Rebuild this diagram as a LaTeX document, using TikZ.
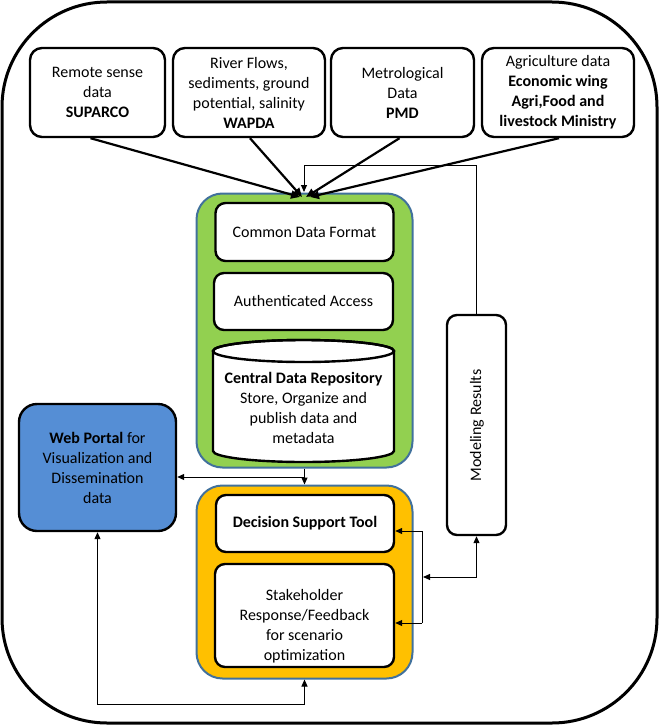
\documentclass[tikz,border=0pt]{standalone}
\usepackage{fontspec}
\setmainfont{Carlito}
\usetikzlibrary{arrows.meta,calc}
\definecolor{grn}{HTML}{92D050}
\definecolor{org}{HTML}{FFC000}
\definecolor{wpblue}{HTML}{558ED5}
\definecolor{frm}{HTML}{41719C}
\begin{document}
\begin{tikzpicture}[x=1pt,y=-1pt,
  every node/.style={font=\fontsize{16}{20}\selectfont},
  srcbox/.style={draw, line width=2.4pt, rounded corners=12pt, fill=white, align=center, inner sep=0pt, minimum height=89pt},
  inbox/.style={draw, line width=2.4pt, rounded corners=10pt, fill=white, align=center, inner sep=0pt},
  cont/.style={draw=frm, line width=2pt, rounded corners=26pt, inner sep=0pt},
  feed/.style={line width=2.2pt, -{Triangle[length=9pt,width=8pt]}},
  link/.style={line width=1pt, -{Triangle[length=7pt,width=6pt]}},
  dlink/.style={line width=1pt, {Triangle[length=7pt,width=6pt]}-{Triangle[length=7pt,width=6pt]}},
  plain/.style={line width=1pt}
]
\useasboundingbox (0,0) rectangle (659,725);
\draw[line width=3pt] (107,2) -- (552,2)
  arc[start angle=90, end angle=0, radius=105pt] -- (657,618)
  arc[start angle=0, end angle=-90, radius=105pt] -- (107,723)
  arc[start angle=270, end angle=180, radius=105pt] -- (2,107)
  arc[start angle=180, end angle=90, radius=105pt] -- cycle;

% source boxes
\node[srcbox, minimum width=135pt] (b1) at (97.5,92.5) {Remote sense\\data\\\textbf{SUPARCO}};
\node[srcbox, minimum width=152pt] (b2) at (249,92.5) {River Flows,\\sediments, ground\\potential, salinity\\\textbf{WAPDA}};
\node[srcbox, minimum width=143pt] (b3) at (402.5,92.5) {Metrological\\Data\\\textbf{PMD}};
\node[srcbox, minimum width=152pt] (b4) at (558,92.5) {Agriculture data\\\textbf{Economic wing}\\\textbf{Agri,Food and}\\\textbf{livestock Ministry}};

% containers
\node[cont, fill=grn, minimum width=216pt, minimum height=274pt] (green) at (304.5,330.5) {};
\node[cont, fill=org, minimum width=216pt, minimum height=193pt] (orange) at (304.5,582) {};

% inner boxes
\node[inbox, minimum width=178pt, minimum height=58pt] (cdf) at (304.5,232) {Common Data Format};
\node[inbox, minimum width=179pt, minimum height=57pt] (aa) at (303.5,301.5) {Authenticated Access};

% cylinder
\filldraw[fill=white, line width=2.4pt] (213,351) -- (213,451)
  arc[start angle=180, end angle=360, x radius=90.5pt, y radius=11pt] -- (394,351)
  arc[start angle=0, end angle=180, x radius=90.5pt, y radius=11pt] -- cycle;
\draw[line width=2.4pt] (303.5,351) ellipse [x radius=90.5pt, y radius=11pt];
\node[align=center, inner sep=0pt] (cdr) at (303.5,408) {\textbf{Central Data Repository}\\Store, Organize and\\publish data and\\metadata};

\node[inbox, minimum width=178pt, minimum height=57pt] (dst) at (305,523.5) {\textbf{Decision Support Tool}};
\node[inbox, minimum width=179pt, minimum height=103pt] (shf) at (304.5,615.5) {};
\node[align=center, inner sep=0pt] (shftext) at (304.5,626) {Stakeholder\\Response/Feedback\\for scenario\\optimization};

% web portal
\node[inbox, fill=wpblue, rounded corners=18pt, minimum width=157pt, minimum height=127pt] (web) at (97.5,467.5) {\textbf{Web Portal} for\\Visualization and\\Dissemination\\data};

% modeling results
\node[inbox, rounded corners=10pt, minimum width=59pt, minimum height=220pt] (mod) at (476.5,425) {};
\node[rotate=90, inner sep=0pt] (modtext) at (477,425.5) {Modeling Results};

% converging arrows
\coordinate (c1) at (300,197);
\coordinate (c2) at (302,197);
\coordinate (c3) at (306,197);
\coordinate (c4) at (310,197);
\draw[feed] ($(b1.south)+(-7,0)$) -- (c1);
\draw[feed] ($(b2.south)+(1,0)$) -- (c2);
\draw[feed] ($(b3.south)+(-3,0)$) -- (c3);
\draw[feed] ($(b4.south)+(1,0)$) -- (c4);

% feedback from modeling results
\coordinate (fb) at (304,165);
\coordinate (fbend) at (304,192);
\draw[link] (mod.north) |- (fb) -- (fbend);

% green to orange and to web portal
\coordinate (mid) at (305,477);
\draw[link] (green.south) -- (orange.north);
\draw[link] (mid) -- (web.east |- mid);

% web portal <-> orange bottom
\draw[dlink] (web.south) -- ++(0,172) -| (orange.south);

% bracket on the right of the orange container
\coordinate (bt) at (422,531);
\coordinate (bb) at (422,623);
\coordinate (bm) at (423,577);
\draw[plain] (bt) -- (bb);
\draw[link] (bt) -- (dst.east |- bt);
\draw[link] (bb) -- (shf.east |- bb);
\draw[dlink] (bm) -| (mod.south);
\end{tikzpicture}
\end{document}
